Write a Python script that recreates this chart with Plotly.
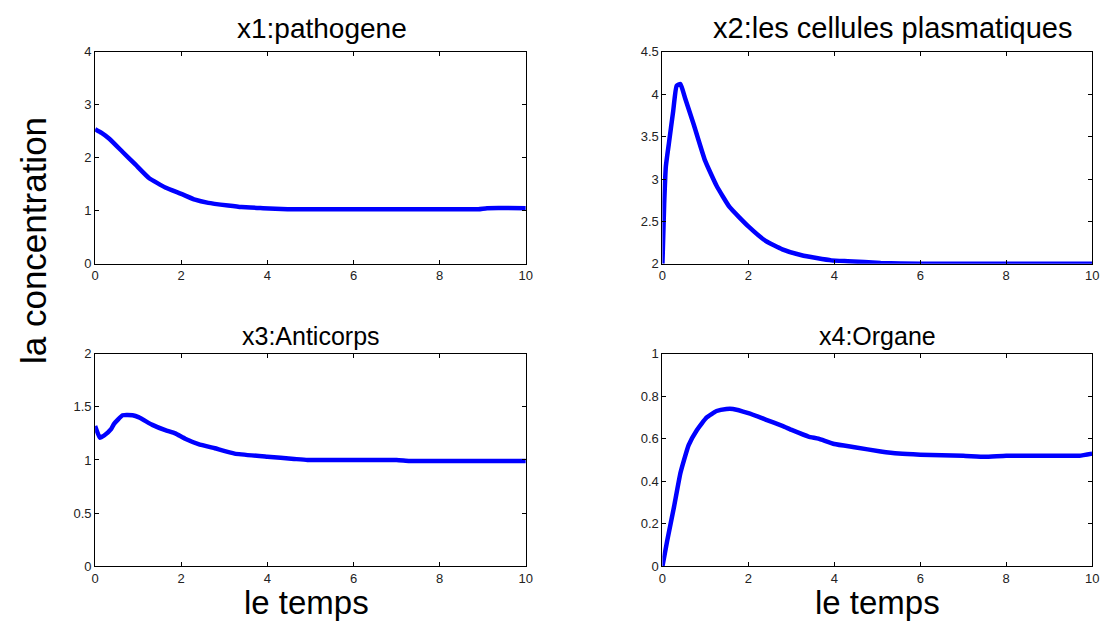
import plotly.graph_objects as go
from plotly.subplots import make_subplots

# ---- data ----
t1 = [0, 0.15, 0.33, 0.64, 0.94, 1.25, 1.63, 2.0, 2.32, 2.63, 3.09, 3.4, 3.9, 4.47, 5.0, 6.0, 7.0, 8.0, 8.9, 9.1, 10.0]
x1 = [2.54, 2.47, 2.36, 2.11, 1.87, 1.62, 1.44, 1.32, 1.21, 1.15, 1.10, 1.07, 1.05, 1.03, 1.03, 1.03, 1.03, 1.03, 1.03, 1.05, 1.05]

t2 = [0, 0.04, 0.08, 0.15, 0.25, 0.33, 0.42, 0.53, 0.73, 0.99, 1.26, 1.56, 2.0, 2.4, 2.79, 3.24, 3.93, 4.31, 5.08, 6.0, 8.0, 10.0]
x2 = [2.0, 2.7, 3.15, 3.42, 3.8, 4.10, 4.12, 3.95, 3.64, 3.22, 2.92, 2.67, 2.44, 2.27, 2.17, 2.10, 2.04, 2.03, 2.01, 2.0, 2.0, 2.0]

t3 = [0, 0.11, 0.21, 0.37, 0.44, 0.64, 0.87, 1.02, 1.33, 1.63, 1.86, 2.09, 2.4, 2.78, 3.24, 4.0, 4.62, 4.93, 6.0, 7.0, 7.3, 8.0, 10.0]
x3 = [1.32, 1.21, 1.23, 1.29, 1.34, 1.42, 1.42, 1.40, 1.33, 1.28, 1.25, 1.20, 1.15, 1.11, 1.06, 1.03, 1.01, 1.00, 1.00, 1.00, 0.99, 0.99, 0.99]

t4 = [0, 0.11, 0.27, 0.42, 0.61, 0.8, 1.03, 1.26, 1.49, 1.64, 2.0, 2.4, 2.79, 3.02, 3.4, 3.63, 4.0, 4.47, 5.08, 5.5, 6.0, 7.0, 7.5, 8.0, 9.0, 9.7, 10.0]
x4 = [0.0, 0.12, 0.28, 0.44, 0.57, 0.64, 0.70, 0.73, 0.74, 0.74, 0.72, 0.69, 0.66, 0.64, 0.61, 0.60, 0.575, 0.56, 0.54, 0.53, 0.525, 0.52, 0.515, 0.52, 0.52, 0.52, 0.53]

titles = ["x1:pathogene", "x2:les cellules plasmatiques", "x3:Anticorps", "x4:Organe"]
y_ranges = [[0, 4], [2, 4.5], [0, 2], [0, 1]]
y_dticks = [1, 0.5, 0.5, 0.2]
x_range = [0, 10]
x_dtick = 2
ylabel = "la concentration"
xlabel = "le temps"

W, H = 1114, 632
FONT = "Liberation Sans, Arial, sans-serif"

fig = make_subplots(rows=2, cols=2)
series = [(t1, x1), (t2, x2), (t3, x3), (t4, x4)]
pos = [(1, 1), (1, 2), (2, 1), (2, 2)]
for (t, v), (r, c) in zip(series, pos):
    fig.add_trace(go.Scatter(x=t, y=v, mode="lines",
                             line=dict(color="#0000FF", width=4.5, shape="spline", smoothing=0.4),
                             showlegend=False), row=r, col=c)

# plot-area geometry (pixels)
xl = [(92, 527), (665, 1099)]
yt = [(46, 263), (355, 573)]
axis_common = dict(showline=True, linecolor="black", linewidth=1, mirror="ticks",
                   ticks="inside", ticklen=4, tickcolor="black", showgrid=False,
                   zeroline=False, tickfont=dict(family=FONT, size=13, color="#222"))
for i, (r, c) in enumerate(pos):
    n = i + 1
    xa = "xaxis" if n == 1 else f"xaxis{n}"
    ya = "yaxis" if n == 1 else f"yaxis{n}"
    x0, x1p = xl[c - 1]
    y0, y1p = yt[r - 1]
    fig.layout[xa].update(domain=[x0 / W, x1p / W], range=x_range, dtick=x_dtick, tick0=0, **axis_common)
    fig.layout[ya].update(domain=[1 - y1p / H, 1 - y0 / H], range=y_ranges[i], dtick=y_dticks[i], tick0=0, **axis_common)

annots = []
title_sizes = [28, 29, 25, 25]
title_x = [321, 897, 310, 882]
title_y = [22, 22, 337, 337]
for i in range(4):
    annots.append(dict(text=titles[i], x=title_x[i] / W, y=1 - title_y[i] / H,
                       xref="paper", yref="paper", showarrow=False,
                       xanchor="center", yanchor="middle",
                       font=dict(family=FONT, size=title_sizes[i], color="black")))
for xc in (306, 882):
    annots.append(dict(text=xlabel, x=xc / W, y=1 - 610 / H,
                       xref="paper", yref="paper", showarrow=False,
                       xanchor="center", yanchor="middle",
                       font=dict(family=FONT, size=33, color="black")))
annots.append(dict(text=ylabel, x=30 / W, y=1 - 239 / H, textangle=-90,
                   xref="paper", yref="paper", showarrow=False,
                   xanchor="center", yanchor="middle",
                   font=dict(family=FONT, size=35, color="black")))

fig.update_layout(width=W, height=H, margin=dict(l=0, r=0, t=0, b=0),
                  paper_bgcolor="white", plot_bgcolor="white",
                  annotations=annots, font=dict(family=FONT, color="black"))
fig.write_html("out.html")
